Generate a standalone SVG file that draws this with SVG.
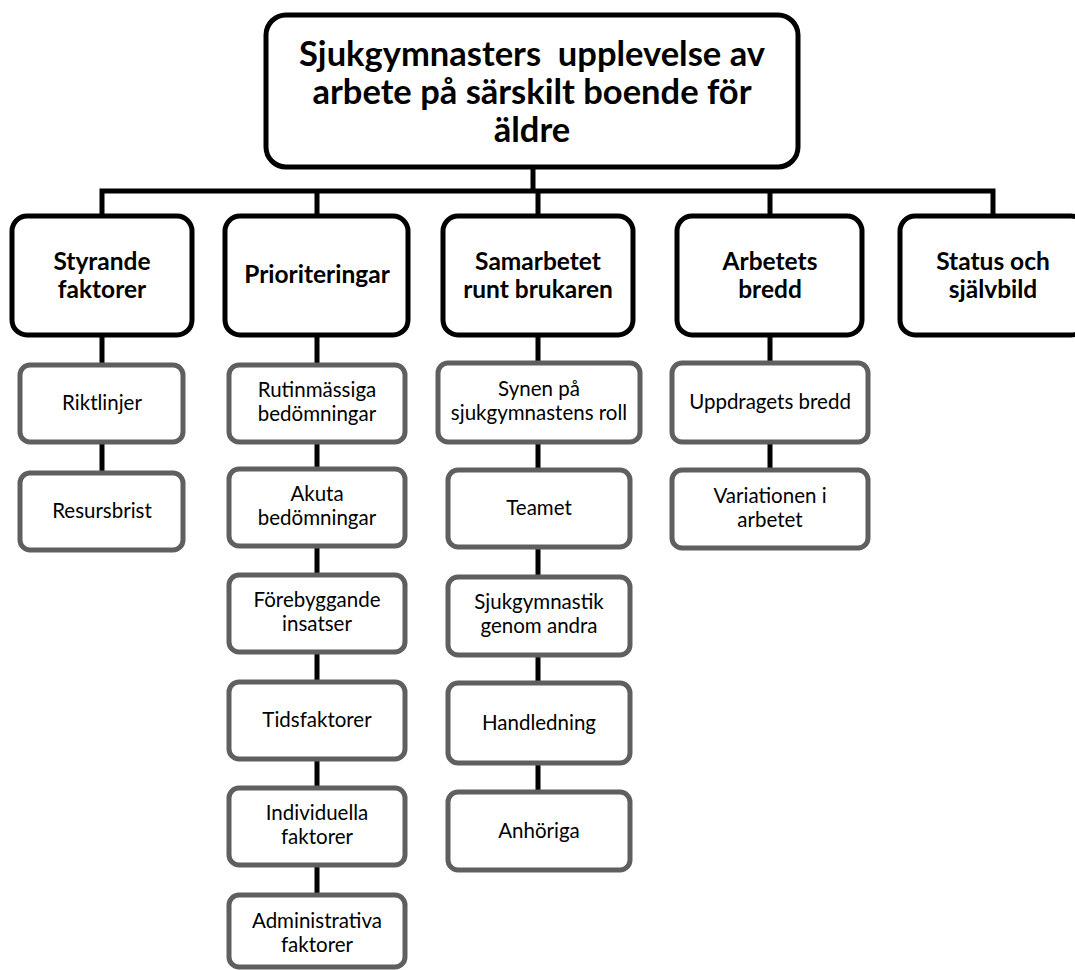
<svg xmlns="http://www.w3.org/2000/svg" width="1075" height="970" viewBox="0 0 1075 970">
<style>
  text { font-family: Lato, "Open Sans", "Liberation Sans", sans-serif; text-anchor: middle; fill: #000; }
  .root { fill: #fff; stroke: #000; stroke-width: 5; }
  .l1 { fill: #fff; stroke: #000; stroke-width: 5; }
  .l2 { fill: #fff; stroke: #5f5f5f; stroke-width: 5; }
  .t0 { font-size: 34.5px; font-weight: bold; white-space: pre; }
  .t1 { font-size: 24.5px; font-weight: bold; }
  .t2 { font-size: 20.5px; }
  .conn { fill: none; stroke: #000; stroke-width: 5; }
</style>
<g id="connectors">
  <path class="conn" d="M533,167 V191"/>
  <path class="conn" d="M102,217 V191 H993 V217"/>
  <path class="conn" d="M317,191 V217 M538,191 V217 M770,191 V217"/>
  <path class="conn" d="M102,335 V365 M102,442 V473"/>
  <path class="conn" d="M317,335 V365 M317,442 V469 M317,546 V575 M317,652 V682 M317,759 V788 M317,865 V895"/>
  <path class="conn" d="M538,335 V363 M538,442 V470 M538,547 V577 M538,655 V683 M538,763 V792"/>
  <path class="conn" d="M770,335 V363 M770,442 V470"/>
</g>
<g id="root">
  <rect class="root" x="266" y="15" width="532" height="152" rx="20"/>
  <text class="t0" x="532" y="66">Sjukgymnasters  upplevelse av</text>
  <text class="t0" x="532" y="104">arbete på särskilt boende för</text>
  <text class="t0" x="532" y="142">äldre</text>
</g>
<g id="styrande">
  <rect class="l1" x="12" y="216" width="180" height="119" rx="15"/>
  <text class="t1" x="102" y="270">Styrande</text>
  <text class="t1" x="102" y="298">faktorer</text>
</g>
<g id="prioriteringar">
  <rect class="l1" x="225" y="216" width="183" height="119" rx="15"/>
  <text class="t1" x="317" y="283">Prioriteringar</text>
</g>
<g id="samarbetet">
  <rect class="l1" x="443" y="216" width="190" height="119" rx="15"/>
  <text class="t1" x="538" y="270">Samarbetet</text>
  <text class="t1" x="538" y="298">runt brukaren</text>
</g>
<g id="arbetets">
  <rect class="l1" x="677" y="216" width="185" height="119" rx="15"/>
  <text class="t1" x="770" y="270">Arbetets</text>
  <text class="t1" x="770" y="298">bredd</text>
</g>
<g id="status">
  <rect class="l1" x="900" y="216" width="186" height="119" rx="15"/>
  <text class="t1" x="993" y="270">Status och</text>
  <text class="t1" x="993" y="298">självbild</text>
</g>
<g id="riktlinjer">
  <rect class="l2" x="20" y="365" width="163" height="77" rx="10"/>
  <text class="t2" x="102" y="410">Riktlinjer</text>
</g>
<g id="resursbrist">
  <rect class="l2" x="20" y="473" width="163" height="77" rx="10"/>
  <text class="t2" x="102" y="518">Resursbrist</text>
</g>
<g id="rutinmassiga">
  <rect class="l2" x="229" y="365" width="176" height="77" rx="10"/>
  <text class="t2" x="317" y="397">Rutinmässiga</text>
  <text class="t2" x="317" y="421">bedömningar</text>
</g>
<g id="akuta">
  <rect class="l2" x="229" y="469" width="176" height="77" rx="10"/>
  <text class="t2" x="317" y="501">Akuta</text>
  <text class="t2" x="317" y="525">bedömningar</text>
</g>
<g id="forebyggande">
  <rect class="l2" x="229" y="575" width="176" height="77" rx="10"/>
  <text class="t2" x="317" y="607">Förebyggande</text>
  <text class="t2" x="317" y="631">insatser</text>
</g>
<g id="tidsfaktorer">
  <rect class="l2" x="229" y="682" width="176" height="77" rx="10"/>
  <text class="t2" x="317" y="727">Tidsfaktorer</text>
</g>
<g id="individuella">
  <rect class="l2" x="229" y="788" width="176" height="77" rx="10"/>
  <text class="t2" x="317" y="820">Individuella</text>
  <text class="t2" x="317" y="844">faktorer</text>
</g>
<g id="administrativa">
  <rect class="l2" x="229" y="895" width="176" height="72" rx="10"/>
  <text class="t2" x="317" y="928">Administrativa</text>
  <text class="t2" x="317" y="952">faktorer</text>
</g>
<g id="synen">
  <rect class="l2" x="438" y="363" width="202" height="79" rx="10"/>
  <text class="t2" x="539" y="396">Synen på</text>
  <text class="t2" x="539" y="420">sjukgymnastens roll</text>
</g>
<g id="teamet">
  <rect class="l2" x="448" y="470" width="182" height="77" rx="10"/>
  <text class="t2" x="539" y="515">Teamet</text>
</g>
<g id="sjukgymnastik">
  <rect class="l2" x="448" y="577" width="182" height="78" rx="10"/>
  <text class="t2" x="539" y="609">Sjukgymnastik</text>
  <text class="t2" x="539" y="633">genom andra</text>
</g>
<g id="handledning">
  <rect class="l2" x="448" y="683" width="182" height="80" rx="10"/>
  <text class="t2" x="539" y="730">Handledning</text>
</g>
<g id="anhoriga">
  <rect class="l2" x="448" y="792" width="182" height="78" rx="10"/>
  <text class="t2" x="539" y="838">Anhöriga</text>
</g>
<g id="uppdragets">
  <rect class="l2" x="672" y="363" width="196" height="79" rx="10"/>
  <text class="t2" x="770" y="409">Uppdragets bredd</text>
</g>
<g id="variationen">
  <rect class="l2" x="672" y="470" width="196" height="78" rx="10"/>
  <text class="t2" x="770" y="503">Variationen i</text>
  <text class="t2" x="770" y="527">arbetet</text>
</g>
</svg>
